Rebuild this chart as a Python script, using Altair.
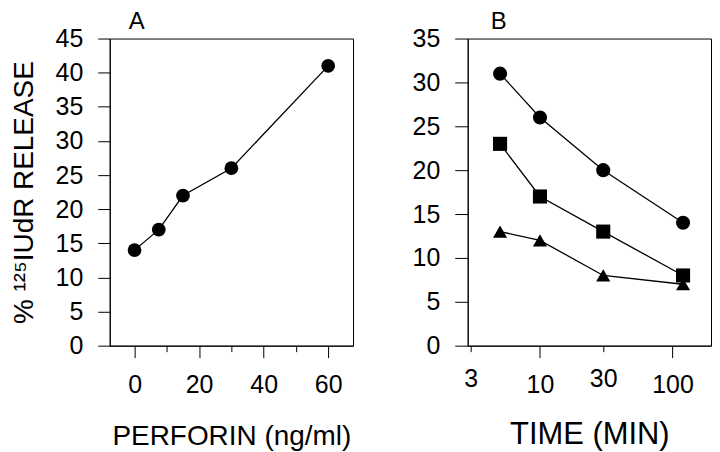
import altair as alt
import pandas as pd

# ---- data ----
perforin_ng_ml = [0, 7.5, 15, 30, 60]
release_a = [14, 17, 22, 26, 41]

time_min = [5, 10, 30, 120]
series_names = ["circle", "square", "triangle"]
release_circle = [31, 26, 20, 14]
release_square = [23, 17, 13, 8]
release_triangle = [13, 12, 8, 7]

panel_labels = ["A", "B"]

y_ticks_a = [0, 5, 10, 15, 20, 25, 30, 35, 40, 45]
y_ticks_b = [0, 5, 10, 15, 20, 25, 30, 35]
x_ticks_a = [0, 10, 20, 30, 40, 50, 60]
x_ticks_b = [3, 10, 30, 100]

df_a = pd.DataFrame({"perforin": perforin_ng_ml, "release": release_a})
rows = []
for name, vals in zip(series_names, [release_circle, release_square, release_triangle]):
    for t, v in zip(time_min, vals):
        rows.append({"time": t, "release": v, "series": name})
df_b = pd.DataFrame(rows)

FONT = "Liberation Sans"
W, H = 244, 308
YTITLE = "% \u00b9\u00b2\u2075IUdR RELEASE"


def panel_letter(letter, dx):
    return (
        alt.Chart(pd.DataFrame({"panel": [letter]}))
        .mark_text(font=FONT, fontSize=24, color="black", align="left", baseline="top")
        .encode(text="panel:N", x=alt.value(dx), y=alt.value(-29))
    )


# ---- panel A ----
xa = alt.X(
    "perforin:Q",
    scale=alt.Scale(domain=[-7.7, 67.7], nice=False, zero=False),
    axis=alt.Axis(
        values=x_ticks_a,
        labelExpr="datum.value % 20 == 0 ? datum.label : ''",
        tickSize={"condition": {"test": "datum.value % 20 == 0", "value": 12}, "value": 6},
        labelPadding=15,
        labelFontSize=25,
        title="PERFORIN (ng/ml)",
        titleFontSize=28,
        titlePadding=25,
    ),
)
ya = alt.Y(
    "release:Q",
    scale=alt.Scale(domain=[0, 45], nice=False),
    axis=alt.Axis(
        values=y_ticks_a,
        tickSize=12,
        labelPadding=15,
        labelFontSize=25,
        minExtent=56,
        maxExtent=56,
        title=YTITLE,
        titleFontSize=28,
        titlePadding=15,
    ),
)
base_a = alt.Chart(df_a).encode(x=xa, y=ya)
panel_a = alt.layer(
    base_a.mark_line(color="black", strokeWidth=1.3),
    base_a.mark_point(shape="circle", filled=True, color="black", opacity=1, size=190),
    panel_letter(panel_labels[0], 19),
).properties(width=W, height=H)

# ---- panel B ----
xb = alt.X(
    "time:Q",
    scale=alt.Scale(type="log", domain=[2.85, 195], nice=False),
    axis=alt.Axis(
        values=x_ticks_b,
        format="d",
        tickSize={"condition": {"test": "datum.value == 10 || datum.value == 100", "value": 12}, "value": 6},
        labelPadding=15,
        labelFontSize=25,
        title="TIME (MIN)",
        titleFontSize=31,
        titlePadding=22,
    ),
)
yb = alt.Y(
    "release:Q",
    scale=alt.Scale(domain=[0, 35], nice=False),
    axis=alt.Axis(
        values=y_ticks_b,
        tickSize=13,
        labelPadding=15,
        labelFontSize=25,
        title=None,
    ),
)
shape_enc = alt.Shape(
    "series:N",
    scale=alt.Scale(domain=series_names, range=["circle", "square", "triangle-up"]),
    legend=None,
)
base_b = alt.Chart(df_b).encode(x=xb, y=yb)
panel_b = alt.layer(
    base_b.mark_line(color="black", strokeWidth=1.3).encode(detail="series:N"),
    base_b.mark_point(filled=True, color="black", opacity=1, size=200).encode(shape=shape_enc),
    panel_letter(panel_labels[1], 23),
).properties(width=W, height=H)

chart = (
    alt.hconcat(panel_a, panel_b, spacing=57)
    .properties(padding={"left": 2, "top": 0, "right": 0, "bottom": 0}, background="white")
    .configure_view(stroke="black", strokeWidth=1)
    .configure_axis(
        grid=False,
        labelFont=FONT,
        titleFont=FONT,
        labelColor="black",
        titleColor="black",
        domainColor="black",
        tickColor="black",
        domainWidth=1,
        tickWidth=1,
        titleFontWeight="normal",
        labelFlush=False,
        labelOverlap=False,
    )
)

chart.save("out.html", embed_options={"renderer": "svg", "actions": False})
